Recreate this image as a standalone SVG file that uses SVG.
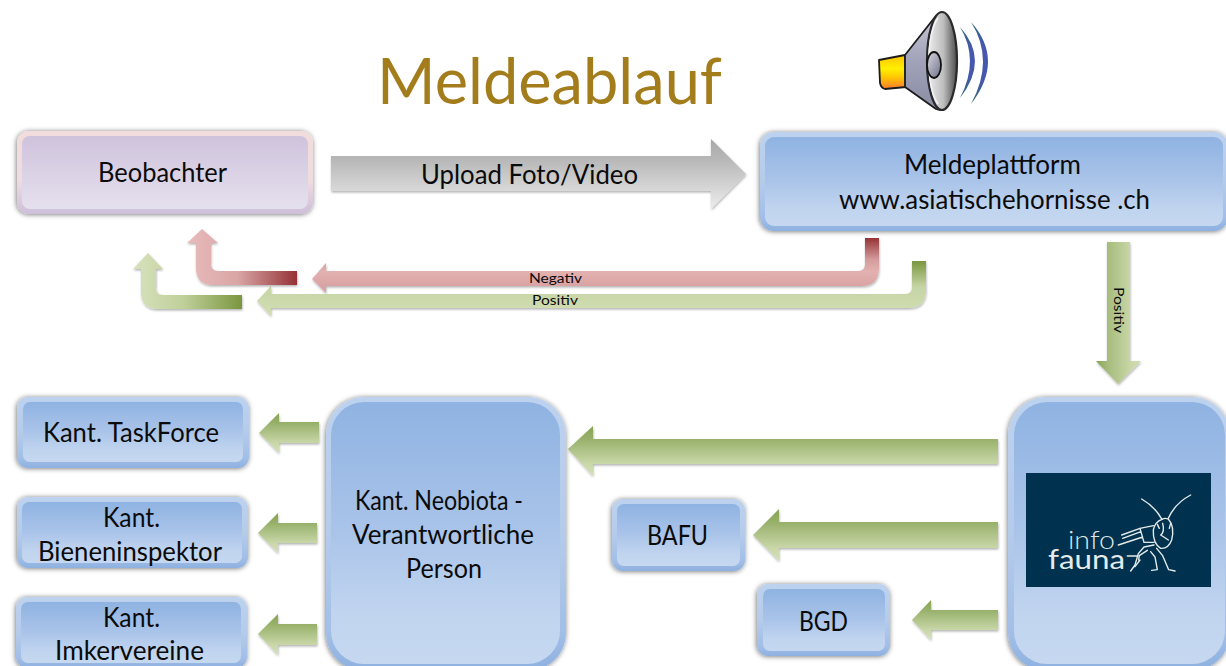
<svg xmlns="http://www.w3.org/2000/svg" width="1226" height="666" viewBox="0 0 1226 666">
<style>
text{font-family:"Lato","Open Sans","Liberation Sans",sans-serif;fill:#0b0b0b;font-size:27px}
.small{font-size:13.5px}
.outer{fill:url(#blueOuter);filter:url(#shadow)}
.inner{fill:url(#blueInner)}
.arrow{filter:url(#arrowShadow)}
.green{fill:url(#greenV)}
.logoLine{fill:none;stroke:#e4eaea;stroke-width:4.2;stroke-linecap:round;stroke-linejoin:round}
</style>
<defs>
<filter id="shadow" x="-10%" y="-10%" width="120%" height="120%"><feDropShadow dx="-0.5" dy="0.5" stdDeviation="2.6" flood-color="#000" flood-opacity=".55"/></filter>
<filter id="arrowShadow" x="-10%" y="-20%" width="120%" height="140%"><feDropShadow dx="0.5" dy="1.5" stdDeviation="1" flood-color="#000" flood-opacity=".3"/></filter>
<linearGradient id="blueOuter" x1="0" y1="0" x2="0" y2="1"><stop offset="0" stop-color="#bdd2ee"/><stop offset=".5" stop-color="#b4cbea"/><stop offset=".85" stop-color="#a3bfe7"/><stop offset="1" stop-color="#8eb1e0"/></linearGradient>
<linearGradient id="blueInner" x1="0" y1="0" x2="0" y2="1"><stop offset="0" stop-color="#8fb3e2"/><stop offset=".5" stop-color="#aac4e9"/><stop offset=".8" stop-color="#c0d4ef"/><stop offset="1" stop-color="#c6d8f0"/></linearGradient>
<linearGradient id="pinkOuter" x1="0" y1="0" x2="0" y2="1"><stop offset="0" stop-color="#f2dcdc"/><stop offset=".6" stop-color="#eedcdf"/><stop offset="1" stop-color="#cdbfda"/></linearGradient>
<linearGradient id="pinkInner" x1="0" y1="0" x2="0" y2="1"><stop offset="0" stop-color="#cfc3dc"/><stop offset="1" stop-color="#e5e0ee"/></linearGradient>
<linearGradient id="grey" x1="0" y1="0" x2="0" y2="1"><stop offset="0" stop-color="#a8a8a8"/><stop offset=".3" stop-color="#b8b8b8"/><stop offset="1" stop-color="#ececec"/></linearGradient>
<linearGradient id="greenH" x1="0" y1="0" x2="1" y2="0"><stop offset="0" stop-color="#85a24e"/><stop offset=".25" stop-color="#a5bb7c"/><stop offset=".8" stop-color="#cbd8a9"/><stop offset="1" stop-color="#cfdcb0"/></linearGradient>
<linearGradient id="greenV" x1="0" y1="0" x2="0" y2="1"><stop offset="0" stop-color="#87a34f"/><stop offset=".25" stop-color="#97b06a"/><stop offset=".75" stop-color="#c9d7a8"/><stop offset="1" stop-color="#d4e0bb"/></linearGradient>
<linearGradient id="redBack" gradientUnits="userSpaceOnUse" x1="0" y1="238" x2="0" y2="286"><stop offset="0" stop-color="#953235"/><stop offset=".45" stop-color="#d49c9c"/><stop offset=".7" stop-color="#e3b1b1"/><stop offset="1" stop-color="#d9a3a3"/></linearGradient>
<linearGradient id="greenBack" gradientUnits="userSpaceOnUse" x1="0" y1="261" x2="0" y2="308"><stop offset="0" stop-color="#7a9640"/><stop offset=".55" stop-color="#c6d5a4"/><stop offset="1" stop-color="#cfdcb0"/></linearGradient>
<linearGradient id="redBend" gradientUnits="userSpaceOnUse" x1="297" y1="0" x2="190" y2="0"><stop offset="0" stop-color="#953235"/><stop offset=".55" stop-color="#d9a5a5"/><stop offset="1" stop-color="#e8baba"/></linearGradient>
<linearGradient id="greenBend" gradientUnits="userSpaceOnUse" x1="242" y1="0" x2="135" y2="0"><stop offset="0" stop-color="#7a9640"/><stop offset=".55" stop-color="#c0d09a"/><stop offset="1" stop-color="#d6e1bb"/></linearGradient>
<linearGradient id="horn" x1="0" y1="0" x2="0" y2="1"><stop offset="0" stop-color="#ffc000"/><stop offset=".4" stop-color="#fff000"/><stop offset=".65" stop-color="#ffc800"/><stop offset="1" stop-color="#ff7a30"/></linearGradient>
<linearGradient id="cone" x1="0" y1="0" x2="0" y2="1"><stop offset="0" stop-color="#c8c8d2"/><stop offset=".5" stop-color="#a0a2b8"/><stop offset="1" stop-color="#8a8ca4"/></linearGradient>
<linearGradient id="dish" x1="0" y1="0" x2="1" y2="0"><stop offset="0" stop-color="#f0f0f0"/><stop offset=".55" stop-color="#bdbdbd"/><stop offset="1" stop-color="#4a4a4a"/></linearGradient>
<linearGradient id="dome" x1="0" y1="0" x2="1" y2="1"><stop offset="0" stop-color="#d8d8e2"/><stop offset="1" stop-color="#70708a"/></linearGradient>
<linearGradient id="wave" x1="0" y1="0" x2="0" y2="1"><stop offset="0" stop-color="#2f6a78"/><stop offset=".3" stop-color="#4657ae"/><stop offset=".7" stop-color="#4657ae"/><stop offset="1" stop-color="#2f6a78"/></linearGradient>
</defs>

<text x="377" y="104" style="font-size:64px;fill:#a37c1b" textLength="345" lengthAdjust="spacingAndGlyphs">Meldeablauf</text>

<g id="speaker">
<path d="M879 60L905 55L906 87L885 89Q881 88 880 83Z" fill="url(#horn)" stroke="#1c1c1c" stroke-width="1.8" stroke-linejoin="round"/>
<path d="M905 55L935 17Q941 11 945 14L945 108Q942 111 936 109L905 87Z" fill="url(#cone)" stroke="#1c1c1c" stroke-width="1.8" stroke-linejoin="round"/>
<ellipse cx="942" cy="61" rx="15" ry="49" fill="url(#dish)" stroke="#2a2a2e" stroke-width="2.2"/>
<path d="M929 55Q930 30 938 18M929 67Q930 92 938 104" fill="none" stroke="#f4f4f4" stroke-width="1.4"/>
<ellipse cx="934" cy="65" rx="7" ry="13" fill="url(#dome)" stroke="#111" stroke-width="1.8"/>
<path d="M960 27Q990 60 960 98Q980 60 960 27Z" fill="url(#wave)"/>
<path d="M971 22Q1005 60 971 104Q995 60 971 22Z" fill="url(#wave)"/>
</g>

<g id="connectors">
<path class="arrow" d="M331 156H711V139L746 174L711 209V191H331Z" fill="url(#grey)"/>
<path class="arrow" d="M865 238H879V268Q879 286 861 286H326V293L312 279L326 263V271H858Q865 271 865 264Z" fill="url(#redBack)"/>
<path class="arrow" d="M912 261H926V290Q926 308 908 308H271V316L257 301L271 286V294H905Q912 294 912 287Z" fill="url(#greenBack)"/>
<path class="arrow" d="M297 271V285H213Q196 285 196 268V243H187L202 229L218 243H211V264Q211 271 218 271Z" fill="url(#redBend)"/>
<path class="arrow" d="M242 295V309H158Q141 309 141 292V269H133L148 253L163 269H156V288Q156 295 163 295Z" fill="url(#greenBend)"/>
<path class="arrow" d="M1107 242H1130V361H1141L1118 384L1096 361H1107Z" fill="url(#greenH)"/>
<path class="arrow green" d="M319 422V443H279V453L259 433L279 413V422Z"/>
<path class="arrow green" d="M317 523V543H278V553L258 533L278 513V523Z"/>
<path class="arrow green" d="M317 624V645H278V655L258 634L278 614V624Z"/>
<path class="arrow green" d="M998 439V464H593V476L568 449L593 426V439Z"/>
<path class="arrow green" d="M998 522V548H779V561L753 535L779 509V522Z"/>
<path class="arrow green" d="M998 610V630H931V640L912 620L931 600V610Z"/>
<text class="small" x="529" y="283" textLength="53" lengthAdjust="spacingAndGlyphs">Negativ</text>
<text class="small" x="532" y="305" textLength="46" lengthAdjust="spacingAndGlyphs">Positiv</text>
<text class="small" transform="translate(1114 287) rotate(90)" textLength="46" lengthAdjust="spacingAndGlyphs">Positiv</text>
<text x="421" y="184" textLength="217" lengthAdjust="spacingAndGlyphs">Upload Foto/Video</text>
</g>

<g id="beobachter">
<rect x="17" y="131" width="296" height="83" rx="12" style="fill:url(#pinkOuter);filter:url(#shadow)"/>
<rect x="22" y="136" width="286" height="73" rx="8" fill="url(#pinkInner)"/>
<text x="98" y="182" textLength="129" lengthAdjust="spacingAndGlyphs">Beobachter</text>
</g>
<g id="meldeplattform">
<rect class="outer" x="760" y="132" width="468" height="99" rx="14"/>
<rect class="inner" x="765" y="137" width="458" height="89" rx="9"/>
<text x="904" y="174" textLength="177" lengthAdjust="spacingAndGlyphs">Meldeplattform</text>
<text x="839" y="209" textLength="311" lengthAdjust="spacingAndGlyphs">www.asiatischehornisse .ch</text>
</g>
<g id="taskforce">
<rect class="outer" x="17" y="397" width="232" height="71" rx="11"/>
<rect class="inner" x="23" y="402" width="220" height="60" rx="7"/>
<text x="43" y="442" textLength="176" lengthAdjust="spacingAndGlyphs">Kant. TaskForce</text>
</g>
<g id="bieneninspektor">
<rect class="outer" x="17" y="497" width="231" height="71" rx="11"/>
<rect class="inner" x="22" y="502" width="220" height="61" rx="7"/>
<text x="103" y="527" textLength="57" lengthAdjust="spacingAndGlyphs">Kant.</text>
<text x="38" y="561" textLength="184" lengthAdjust="spacingAndGlyphs">Bieneninspektor</text>
</g>
<g id="imkervereine">
<rect class="outer" x="16" y="597" width="231" height="71" rx="11"/>
<rect class="inner" x="21" y="602" width="220" height="61" rx="7"/>
<text x="103" y="627" textLength="57" lengthAdjust="spacingAndGlyphs">Kant.</text>
<text x="55" y="660" textLength="149" lengthAdjust="spacingAndGlyphs">Imkervereine</text>
</g>
<g id="neobiota">
<rect class="outer" x="326" y="397" width="240" height="274" rx="38"/>
<rect class="inner" x="331" y="402" width="229" height="262" rx="33"/>
<text x="355" y="510" textLength="168" lengthAdjust="spacingAndGlyphs">Kant. Neobiota -</text>
<text x="352" y="544" textLength="182" lengthAdjust="spacingAndGlyphs">Verantwortliche</text>
<text x="406" y="578" textLength="76" lengthAdjust="spacingAndGlyphs">Person</text>
</g>
<g id="bafu">
<rect class="outer" x="612" y="499" width="133" height="72" rx="11"/>
<rect class="inner" x="617" y="504" width="123" height="62" rx="7"/>
<text x="647" y="545" textLength="61" lengthAdjust="spacingAndGlyphs">BAFU</text>
</g>
<g id="bgd">
<rect class="outer" x="757" y="584" width="133" height="72" rx="11"/>
<rect class="inner" x="763" y="589" width="122" height="62" rx="7"/>
<text x="799" y="631" textLength="49" lengthAdjust="spacingAndGlyphs">BGD</text>
</g>
<g id="infofauna">
<rect class="outer" x="1008" y="397" width="222" height="274" rx="38"/>
<rect class="inner" x="1014" y="402" width="211" height="262" rx="33"/>
<rect x="1026" y="473" width="185" height="114" fill="#00324f"/>
<text x="1068" y="549" style="font-size:26px;font-weight:300;fill:#dfe6e6" textLength="47" lengthAdjust="spacingAndGlyphs">info</text>
<text x="1048" y="569" style="font-size:26px;font-weight:400;fill:#e6ecec" textLength="77" lengthAdjust="spacingAndGlyphs">fauna</text>
<g class="logoLine" transform="translate(1040 485) scale(.3333)">
<path d="M305 42Q345 65 366 103M452 30Q405 55 385 100"/>
<path d="M366 103Q345 110 340 135Q338 175 362 190Q385 192 395 165Q405 125 385 102Q375 98 366 103Z"/>
<path d="M368 115Q375 140 362 150Q375 158 385 165M352 118L358 130M392 115L388 130"/>
<path d="M340 122L300 130L245 150M303 140L248 160M308 156L235 180M300 130L312 172L342 172"/>
<path d="M342 180L312 186L295 206L285 240L272 258M322 196L298 212L296 225M262 213L292 213"/>
<path d="M350 190L368 212L386 254L405 258M332 200L345 216L352 254L335 256M300 225L285 245"/>
</g>
</g>
</svg>
